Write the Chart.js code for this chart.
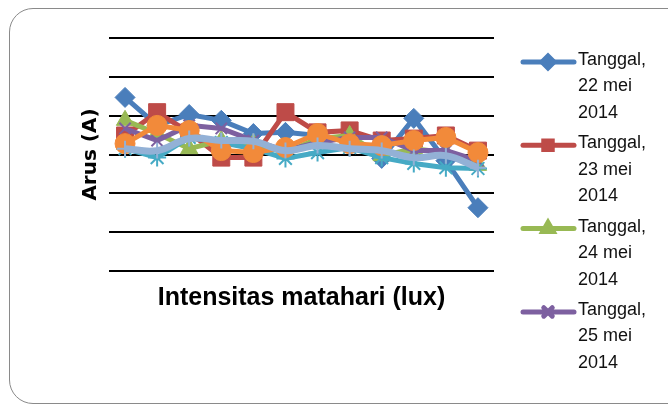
<!DOCTYPE html>
<html lang="id">
<head>
  <meta charset="UTF-8">
  <title>Arus vs Intensitas matahari</title>
  <style>
    body {
      margin: 0;
      background: #ffffff;
      width: 668px;
      height: 411px;
      overflow: hidden;
      position: relative;
    }
    .frame {
      position: absolute;
      left: 9px;
      top: 8px;
      width: 700px;
      height: 396px;
      border: 1.5px solid #8a8a8a;
      border-radius: 24px;
      box-sizing: border-box;
    }
    canvas {
      position: absolute;
      left: 0;
      top: 0;
    }
  </style>
</head>
<body>
  <div class="frame"></div>
  <canvas id="chart" width="668" height="411"></canvas>

  <script src="https://cdn.jsdelivr.net/npm/chart.js"></script>
  <script>
    // x categories (intensity values are not printed on the original chart)
    const categories = ['1', '2', '3', '4', '5', '6', '7', '8', '9', '10', '11', '12'];
    const yTicks = [0, 1, 2, 3, 4, 5, 6];

    const seriesNames = [
      ['Tanggal,', '22 mei', '2014'],
      ['Tanggal,', '23 mei', '2014'],
      ['Tanggal,', '24 mei', '2014'],
      ['Tanggal,', '25 mei', '2014'],
      ['Tanggal,', '26 mei', '2014'],
      ['Tanggal,', '27 mei', '2014'],
      ['Tanggal,', '28 mei', '2014']
    ];

    const arus22 = [4.47, 3.75, 4.03, 3.88, 3.54, 3.57, 3.49, 3.36, 2.90, 3.93, 2.84, 1.63];
    const arus23 = [3.49, 4.09, 3.57, 2.92, 2.92, 4.09, 3.57, 3.62, 3.36, 3.41, 3.49, 3.10];
    const arus24 = [3.88, 3.54, 3.15, 3.36, 3.28, 3.05, 3.41, 3.49, 2.97, 3.15, 3.05, 2.72];
    const arus25 = [3.67, 3.36, 3.75, 3.67, 3.36, 3.10, 3.31, 3.44, 3.44, 3.10, 3.10, 2.84];
    const arus26 = [3.15, 2.92, 3.44, 3.31, 3.15, 2.90, 3.05, 3.18, 2.92, 2.77, 2.66, 2.64];
    const arus27 = [3.28, 3.75, 3.62, 3.10, 3.05, 3.18, 3.54, 3.28, 3.23, 3.36, 3.44, 3.05];
    const arus28 = [3.15, 3.10, 3.41, 3.36, 3.34, 3.10, 3.23, 3.15, 3.10, 2.92, 2.97, 2.66];

    const colors = ['#4A7EBB', '#BE4B48', '#98B954', '#7D60A0', '#46AAC5', '#F28A3A', '#93B1D6'];
    const markers = ['rectRot', 'rect', 'triangle', 'crossRot', 'star', 'circle', 'cross'];
    const radii = [10, 12, 10, 8, 9, 10, 8];
    const seriesData = [arus22, arus23, arus24, arus25, arus26, arus27, arus28];

    const datasets = seriesData.map(function (d, i) {
      return {
        label: seriesNames[i].join(' '),
        data: d,
        borderColor: colors[i],
        backgroundColor: colors[i],
        borderWidth: i === 6 ? 7 : 5,
        pointStyle: markers[i],
        pointRadius: radii[i],
        pointBorderWidth: (i === 3 || i === 4 || i === 6) ? 2 : 1,
        pointBorderColor: colors[i],
        pointBackgroundColor: colors[i],
        tension: i === 6 ? 0.4 : 0,
        order: 6 - i
      };
    });

    // legend drawn by hand so the labels can wrap on three lines
    const sideLegend = {
      id: 'sideLegend',
      afterDraw: function (chart) {
        const ctx = chart.ctx;
        ctx.save();
        for (let i = 0; i < 4; i++) {
          const y = 62 + i * 83.3;
          ctx.strokeStyle = colors[i];
          ctx.lineWidth = 5;
          ctx.lineCap = 'round';
          ctx.beginPath();
          ctx.moveTo(523, y);
          ctx.lineTo(574, y);
          ctx.stroke();
          ctx.fillStyle = colors[i];
          Chart.helpers.drawPoint(ctx, {
            pointStyle: markers[i],
            radius: 6,
            borderWidth: 2
          }, 548, y);
          ctx.fillStyle = '#111';
          ctx.font = '18px "Liberation Sans", Arial, sans-serif';
          ctx.textBaseline = 'middle';
          ctx.textAlign = 'left';
          seriesNames[i].forEach(function (line, k) {
            ctx.fillText(line, 578, y - 2 + k * 26.5);
          });
        }
        ctx.restore();
      }
    };

    new Chart(document.getElementById('chart'), {
      type: 'line',
      data: { labels: categories, datasets: datasets },
      plugins: [sideLegend],
      options: {
        responsive: false,
        animation: false,
        layout: { padding: { left: 75, top: 38, right: 174, bottom: 98 } },
        plugins: {
          legend: { display: false },
          tooltip: { enabled: false }
        },
        scales: {
          x: {
            offset: true,
            grid: { display: false },
            border: { display: false },
            ticks: { display: false },
            title: {
              display: true,
              text: 'Intensitas matahari (lux)',
              color: '#000',
              font: { family: '"Liberation Sans", Arial, sans-serif', size: 25, weight: 'bold' },
              padding: { top: 4, bottom: 0 }
            }
          },
          y: {
            min: 0,
            max: 6,
            afterBuildTicks: function (axis) {
              axis.ticks = yTicks.map(function (v) { return { value: v }; });
            },
            grid: { color: '#000', lineWidth: 2, drawTicks: false },
            border: { display: false },
            ticks: { display: false },
            title: {
              display: true,
              text: 'Arus (A)',
              color: '#000',
              font: { family: '"DejaVu Sans", sans-serif', size: 20, weight: 'bold' },
              padding: { top: 4, bottom: 6 }
            }
          }
        }
      }
    });
  </script>
</body>
</html>
